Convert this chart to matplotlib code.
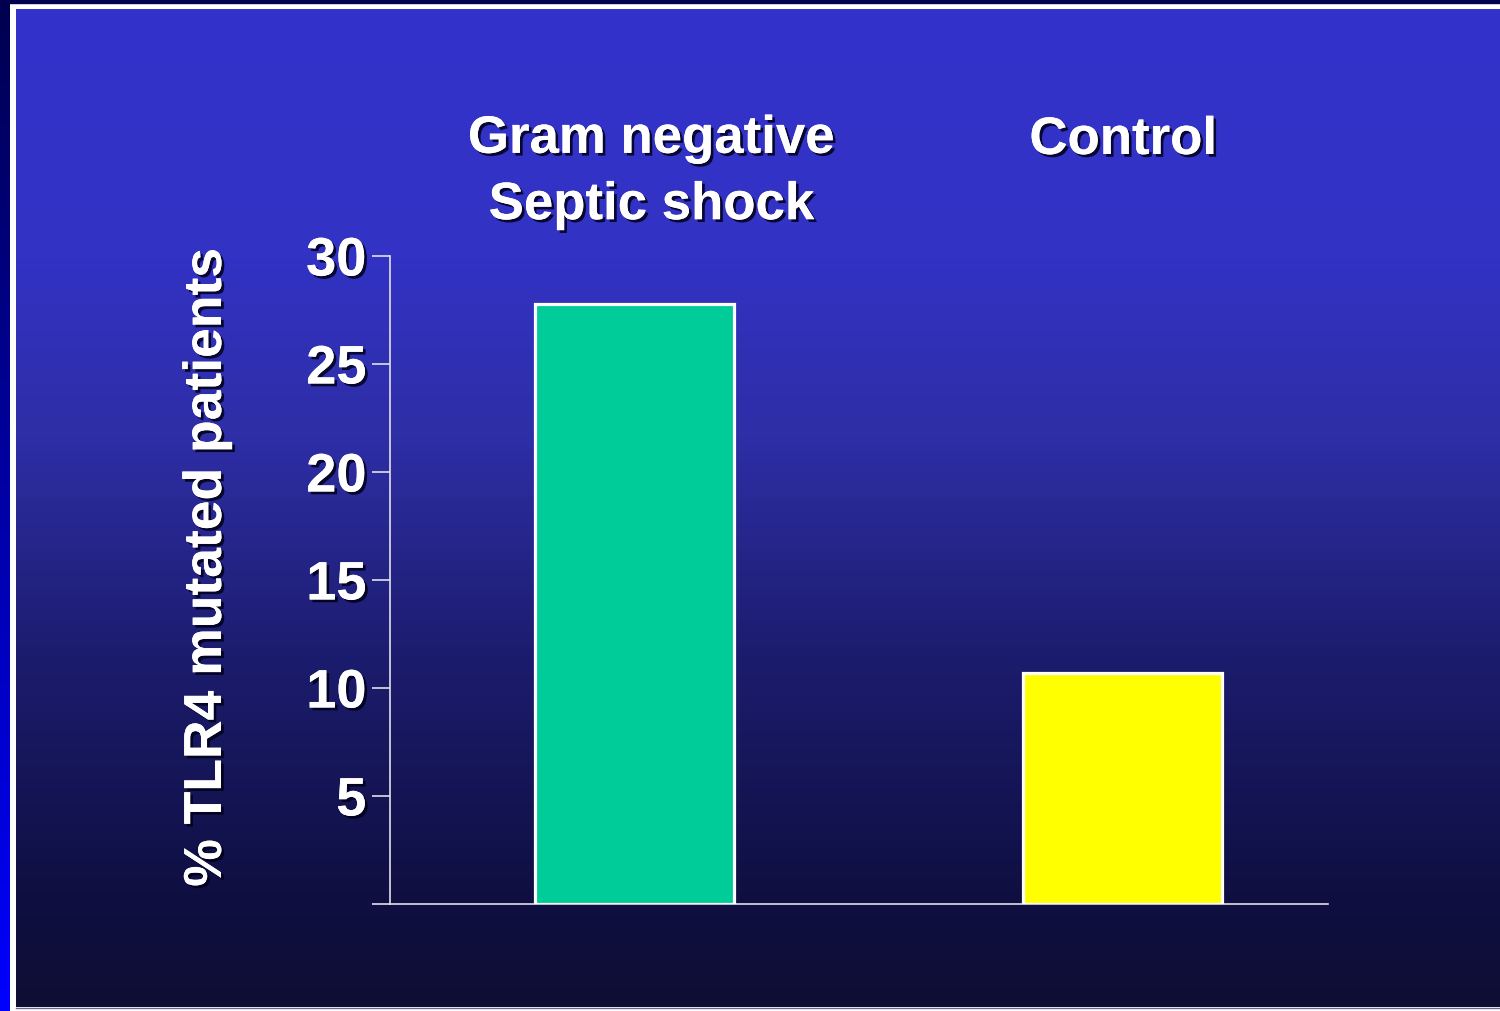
import numpy as np
import matplotlib.pyplot as plt
import matplotlib.patheffects as pe
from matplotlib.colors import LinearSegmentedColormap

plt.rcParams['font.family'] = ['Liberation Sans', 'DejaVu Sans']
plt.rcParams['font.weight'] = 'bold'

groups = ['Gram negative\nSeptic shock', 'Control']
pct_mutated = [27.8, 10.7]
bar_colors = ['#00cc99', '#ffff00']
yticks = [0, 5, 10, 15, 20, 25, 30]
ytick_labels = ['', '5', '10', '15', '20', '25', '30']
ylabel = '% TLR4 mutated patients'

W, H = 1500, 1011
fig = plt.figure(figsize=(W / 100, H / 100), dpi=100)

# slide background, drawn in pixel units
bg = fig.add_axes([0, 0, 1, 1])
bg.set_xlim(0, W)
bg.set_ylim(H, 0)
bg.axis('off')
bg.add_patch(plt.Rectangle((0, 0), W, H, color='white', zorder=0))
bg.add_patch(plt.Rectangle((0, 0), W, 3, color='#00004f', zorder=1))

panel = LinearSegmentedColormap.from_list('panel', [
    (0.0, '#3333cc'), (0.25, '#3232c4'), (0.43, '#2e2ea6'),
    (0.65, '#1c1c6e'), (0.89, '#0f0f42'), (1.0, '#0e0e34')])
grad = np.linspace(0, 1, 256).reshape(-1, 1)
bg.imshow(grad, cmap=panel, aspect='auto', extent=[16, W, 1007, 9], zorder=1)
strip = LinearSegmentedColormap.from_list('strip', ['#00004f', '#0000ff'])
bg.imshow(grad, cmap=strip, aspect='auto', extent=[0, 10, H, 0], zorder=1)
bg.plot([16, W], [1007.5, 1007.5], color='#6a6a8a', lw=1, zorder=2)

shadow = [pe.withSimplePatchShadow(offset=(2, -2), shadow_rgbFace='#000018', alpha=0.85),
          pe.Normal()]

ax = fig.add_axes([390 / W, 1 - 904 / H, 938 / W, 648 / H])
ax.patch.set_visible(False)
x = np.arange(len(groups))
ax.bar(x, pct_mutated, width=0.407, color=bar_colors, edgecolor='white',
       linewidth=2.3, zorder=3)
ax.set_xlim(-0.5, 1.42)
ax.set_ylim(0, 30)
for s in ['top', 'right']:
    ax.spines[s].set_visible(False)
for s in ['left', 'bottom']:
    ax.spines[s].set_color('#e0e0e8')
    ax.spines[s].set_linewidth(1.2)
ax.set_xticks([])
ax.set_yticks(yticks)
ax.set_yticklabels(ytick_labels)
ax.tick_params(axis='y', length=13, width=1.2, color='#e0e0e8', pad=4,
               labelsize=39, labelcolor='white')
for lab in ax.get_yticklabels():
    lab.set_fontweight('bold')
    lab.set_path_effects(shadow)

# group names above the bars
label_x = [651, 1123]
for name, lx in zip(groups, label_x):
    n = name.count('\n') + 1
    fig.text(lx / W, 1 - (140 + 32 * (n - 1)) / H, name, ha='center', va='center',
             fontsize=38, fontweight='bold', color='white', linespacing=1.42,
             path_effects=shadow)

fig.text(207 / W, 1 - 567 / H, ylabel, rotation=90, ha='center', va='center',
         fontsize=38.5, fontweight='bold', color='white', path_effects=shadow)

fig.savefig('out.png', dpi=100)
